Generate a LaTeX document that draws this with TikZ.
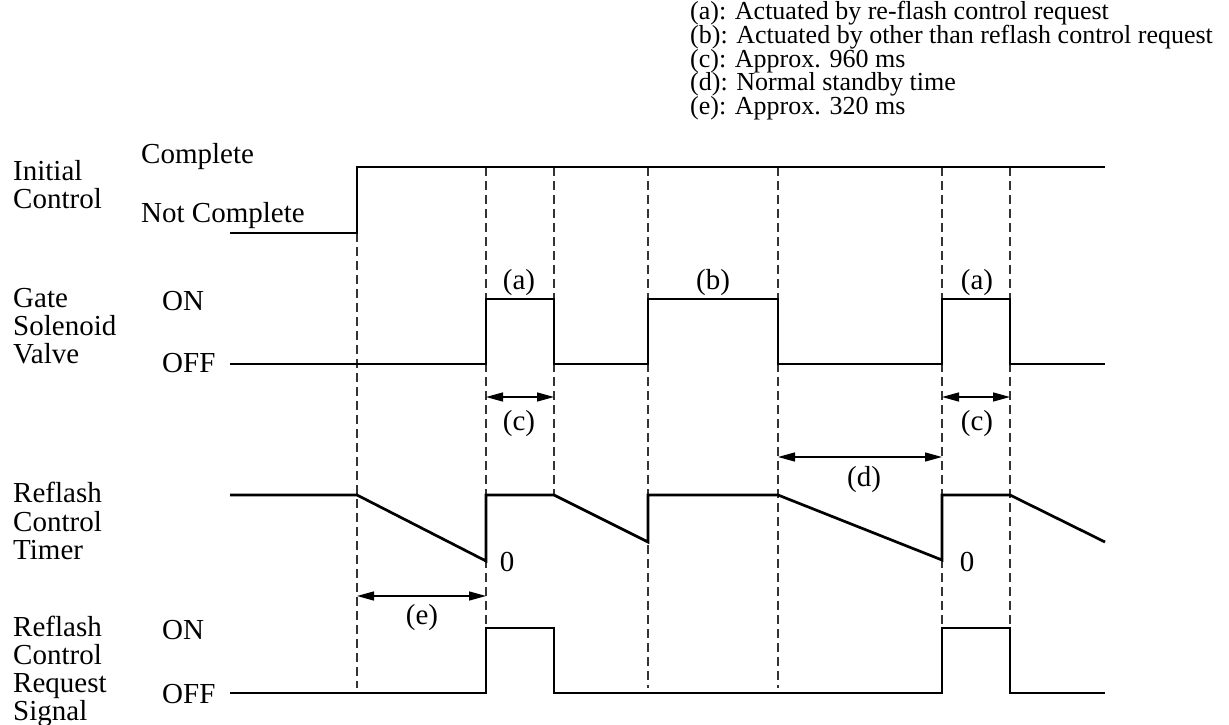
\documentclass[tikz,border=0pt]{standalone}
\usepackage{fontspec}
\setmainfont{Liberation Serif}
\usetikzlibrary{arrows.meta}
\begin{document}
\begin{tikzpicture}[x=1pt,y=-1pt,
  sig/.style={line width=2.7pt, line join=miter},
  guide/.style={line width=1.2pt, black!80, dash pattern=on 9pt off 5pt},
  dim/.style={line width=1.4pt, {Triangle[length=17pt,width=9pt]}-{Triangle[length=17pt,width=9pt]}},
  lab/.style={anchor=base west, inner sep=0pt, font=\fontsize{29}{29}\selectfont},
  tag/.style={anchor=base, inner sep=0pt, font=\fontsize{29}{29}\selectfont},
  leg/.style={anchor=base west, inner sep=0pt, font=\fontsize{26}{26}\selectfont}]
\useasboundingbox (0,0) rectangle (1229,725);

% legend
\node[leg] (la) at (690,20) {(a): Actuated by re-flash control request};
\node[leg] (lb) at (690,43.5) {(b): Actuated by other than reflash control request};
\node[leg] (lc) at (690,67) {(c): Approx. 960 ms};
\node[leg] (ld) at (690,90.5) {(d): Normal standby time};
\node[leg] (le) at (690,114) {(e): Approx. 320 ms};

% left labels
\node[lab] (ic1) at (13,180) {Initial};
\node[lab] (ic2) at (13,208) {Control};
\node[lab] (icH) at (141,163) {Complete};
\node[lab] (icL) at (141,222) {Not Complete};

\node[lab] (gv1) at (13,307) {Gate};
\node[lab] (gv2) at (13,335) {Solenoid};
\node[lab] (gv3) at (13,363) {Valve};
\node[lab] (gvH) at (162,310) {ON};
\node[lab] (gvL) at (162,372) {OFF};

\node[lab] (rt1) at (13,502) {Reflash};
\node[lab] (rt2) at (13,531) {Control};
\node[lab] (rt3) at (13,559) {Timer};

\node[lab] (rs1) at (13,636) {Reflash};
\node[lab] (rs2) at (13,664) {Control};
\node[lab] (rs3) at (13,692) {Request};
\node[lab] (rs4) at (13,720) {Signal};
\node[lab] (rsH) at (162,639) {ON};
\node[lab] (rsL) at (162,703) {OFF};

% guide coordinates
\coordinate (g1t) at (357,233); \coordinate (g1b) at (357,688);
\coordinate (g2t) at (486,167); \coordinate (g2b) at (486,628);
\coordinate (g3t) at (554,167); \coordinate (g3b) at (554,495);
\coordinate (g4t) at (648,167); \coordinate (g4b) at (648,688);
\coordinate (g5t) at (778,167); \coordinate (g5b) at (778,688);
\coordinate (g6t) at (942,167); \coordinate (g6b) at (942,628);
\coordinate (g7t) at (1010,167); \coordinate (g7b) at (1010,628);

\foreach \i in {1,...,7} \draw[guide] (g\i t) -- (g\i b);

% signals
\draw[sig] (230,233) -- (357,233) -- (357,167) -- (1105,167);
\draw[sig] (230,364) -- (486,364) -- (486,299) -- (554,299) -- (554,364)
  -- (648,364) -- (648,299) -- (778,299) -- (778,364) -- (942,364)
  -- (942,299) -- (1010,299) -- (1010,364) -- (1105,364);
\draw[sig] (230,495) -- (357,495) -- (486,561) -- (486,495) -- (554,495)
  -- (648,542) -- (648,495) -- (778,495) -- (942,560) -- (942,495)
  -- (1010,495) -- (1105,542);
\draw[sig] (230,693) -- (486,693) -- (486,628) -- (554,628) -- (554,693)
  -- (942,693) -- (942,628) -- (1010,628) -- (1010,693) -- (1105,693);

% pulse labels
\node[tag] (pa1) at (519,289) {(a)};
\node[tag] (pb) at (713,289) {(b)};
\node[tag] (pa2) at (977,289) {(a)};

% dimension arrows
\coordinate (c1l) at (486,397); \coordinate (c1r) at (554,397);
\coordinate (c2l) at (942,397); \coordinate (c2r) at (1010,397);
\coordinate (dl) at (778,457); \coordinate (dr) at (942,457);
\coordinate (el) at (357,596); \coordinate (er) at (486,596);
\draw[dim] (c1l) -- (c1r);
\draw[dim] (c2l) -- (c2r);
\draw[dim] (dl) -- (dr);
\draw[dim] (el) -- (er);
\node[tag] (pc1) at (519,430) {(c)};
\node[tag] (pc2) at (977,430) {(c)};
\node[tag] (pd) at (864,486) {(d)};
\node[tag] (pe) at (422,624) {(e)};

% zero marks
\node[tag] (z1) at (507,571) {0};
\node[tag] (z2) at (967,571) {0};
\end{tikzpicture}
\end{document}
